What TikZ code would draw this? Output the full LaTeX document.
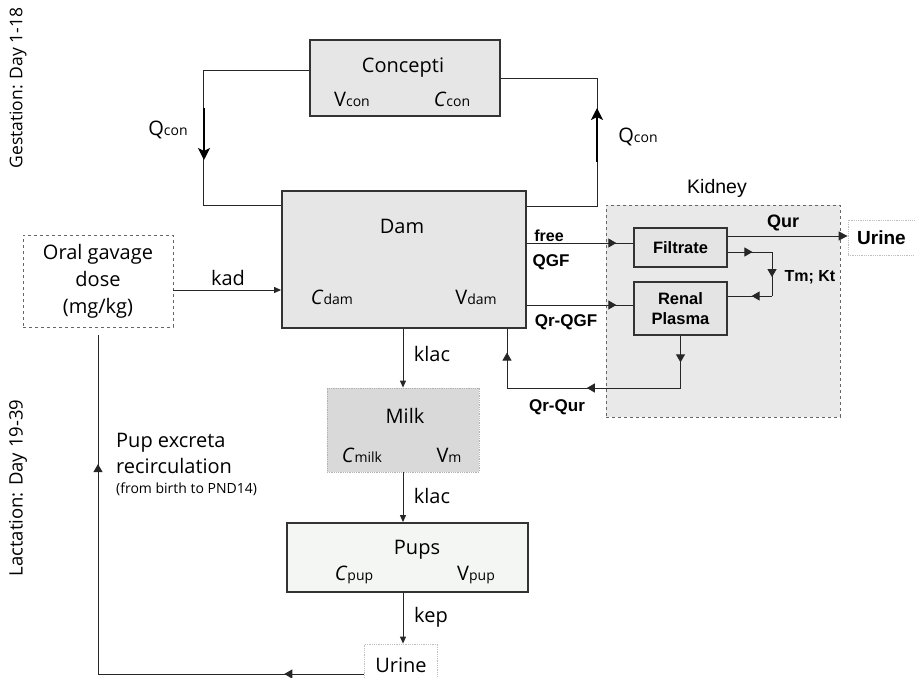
\documentclass[tikz,border=0pt]{standalone}
\usepackage{fontspec}
\setmainfont{Open Sans}
\newfontfamily\arialf{Liberation Sans}
\usetikzlibrary{arrows.meta,decorations.markings,calc}
\definecolor{boxgray}{HTML}{E6E6E6}
\definecolor{milkgray}{HTML}{D9D9D9}
\definecolor{kidgray}{HTML}{E9E9E9}
\definecolor{innergray}{HTML}{E4E4E4}
\definecolor{pupfill}{HTML}{F3F6F3}
\definecolor{edge}{HTML}{333333}
\newcommand\cfs{\fontsize{20}{23}\selectfont}
\newcommand\sbx[1]{{\fontsize{14}{16}\selectfont #1}}
\begin{document}
\begin{tikzpicture}[x=1pt,y=-1pt,
  bigbox/.style={draw=edge, line width=1.8pt, fill=#1, inner sep=0pt},
  inbox/.style={draw=edge, line width=1.3pt, fill=innergray, inner sep=0pt, align=center,
     font=\arialf\bfseries\fontsize{16.5}{20}\selectfont},
  dbox/.style={draw=black!60, dashed, line width=0.8pt, fill=white, inner sep=0pt, align=center},
  ubox/.style={draw=black!25, densely dotted, line width=0.8pt, fill=white, inner sep=0pt},
  kbox/.style={draw=black!60, dashed, line width=0.9pt, fill=kidgray, inner sep=0pt},
  lbl/.style={inner sep=0pt, font=\cfs},
  klbl/.style={inner sep=0pt, font=\arialf\bfseries\fontsize{17}{19}\selectfont},
  ln/.style={draw=black!85, line width=1pt},
  arr/.style={-{Triangle[length=7pt,width=6pt]}},
  thk/.style={draw=black, line width=2.4pt, -{Stealth[length=12pt,width=12pt,inset=3pt]}},
  midarr/.style={postaction={decorate,decoration={markings,
     mark=at position #1 with {\arrow{Triangle[length=8pt,width=9pt]}}}}}
]
\useasboundingbox (0,0) rectangle (915,677);

% side labels
\node[inner sep=0pt, font=\fontsize{17.5}{20}\selectfont, rotate=90] (gest) at (18,88) {Gestation: Day 1-18};
\node[inner sep=0pt, font=\fontsize{18.5}{20}\selectfont, rotate=90] (lact) at (18,488) {Lactation: Day 19-39};

% Concepti
\node[bigbox=boxgray, minimum width=190pt, minimum height=76pt] (concepti) at (405,78) {};
\node[lbl] (tconcepti) at (403,68) {Concepti};
\node[lbl] (tvcon) at (352,99) {V\sbx{con}};
\node[lbl] (tccon) at (452,99) {\textit{C}\sbx{con}};

% Dam
\node[bigbox=boxgray, minimum width=244pt, minimum height=137pt] (dam) at (404,259.5) {};
\node[lbl] (tdam) at (402,226) {Dam};
\node[lbl] (tcdam) at (332,297) {\textit{C}\sbx{dam}};
\node[lbl] (tvdam) at (476,297) {V\sbx{dam}};

% Oral gavage
\node[dbox, minimum width=150pt, minimum height=92pt, font=\fontsize{20}{27}\selectfont] (oral) at (98,281) {Oral gavage\\dose\\(mg/kg)};

% Kidney
\node[kbox, minimum width=234pt, minimum height=212pt] (kidney) at (723,311) {};
\node[inner sep=0pt, font=\arialf\fontsize{19.5}{21}\selectfont] (tkidney) at (717,188) {Kidney};
\node[inbox, minimum width=93pt, minimum height=39pt] (filtrate) at (680.5,247.5) {Filtrate};
\node[inbox, minimum width=93pt, minimum height=53pt] (renal) at (680.5,308.5) {Renal\\Plasma};
\node[ubox, minimum width=67pt, minimum height=35pt, font=\arialf\bfseries\fontsize{19}{21}\selectfont] (urineR) at (881.5,237.5) {Urine};

% Milk, Pups, Urine
\node[draw=black!30, densely dotted, line width=0.8pt, fill=milkgray, inner sep=0pt, minimum width=152pt, minimum height=84pt] (milk) at (403,430) {};
\node[lbl] (tmilk) at (405,416) {Milk};
\node[lbl] (tcmilk) at (362,455) {\textit{C}\sbx{milk}};
\node[lbl] (tvm) at (449,455) {V\sbx{m}};
\node[bigbox=pupfill, minimum width=241pt, minimum height=69pt] (pups) at (407.5,557.5) {};
\node[lbl] (tpups) at (417,550) {Pups};
\node[lbl] (tcpup) at (354,575) {\textit{C}\sbx{pup}};
\node[lbl] (tvpup) at (476,575) {V\sbx{pup}};
\node[ubox, minimum width=73pt, minimum height=46pt] (urineB) at (401,667) {};
\node[lbl] (turineB) at (401,665) {Urine};

% Concepti loops
\draw[ln] ([yshift=8pt]concepti.west) -- ++(-106,0) |- ([yshift=-15pt]dam.north west);
\draw[ln] (concepti.east) -- ++(97,0) |- ([yshift=-16pt]dam.north east);
\coordinate (qa1) at (204,108); \coordinate (qa2) at (204,160);
\coordinate (qb1) at (597,162); \coordinate (qb2) at (597,108);
\draw[thk] (qa1) -- (qa2);
\draw[thk] (qb1) -- (qb2);
\node[lbl] (lqcon1) at (168,130) {Q\sbx{con}};
\node[lbl] (lqcon2) at (638,137) {Q\sbx{con}};

% kad
\draw[ln, arr] ([yshift=-9pt]oral.east) -- ([yshift=-9pt]oral.east -| dam.west);
\node[lbl] (lkad) at (228,278) {kad};

% kidney connections
\coordinate (yfree) at (0,243);
\coordinate (yqr) at (0,305);
\coordinate (yqur) at (0,236);
\coordinate (yft) at (0,252);
\coordinate (yrp) at (0,296);
\coordinate (tmtop) at (772,252);
\coordinate (tmbot) at (772,296);
\coordinate (rpb) at (680.5,388);
\coordinate (rpl) at (507,388);
\draw[ln, midarr=0.84] (dam.east |- yfree) -- (filtrate.west |- yfree);
\draw[ln, midarr=0.84] (dam.east |- yqr) -- (renal.west |- yqr);
\draw[ln, -{Triangle[length=9pt,width=9pt]}] (filtrate.east |- yqur) -- (urineR.west |- yqur);
\draw[ln, midarr=0.56] (filtrate.east |- yft) -- (tmtop);
\draw[ln, midarr=0.57] (tmtop) -- (tmbot);
\draw[ln, midarr=0.46] (tmbot) -- (renal.east |- yrp);
\draw[ln, midarr=0.51] (renal.south) -- (rpb);
\draw[ln, midarr=0.54] (rpb) -- (rpl);
\draw[ln, midarr=0.6] (rpl) -- (dam.south -| rpl);
\node[inner sep=0pt, font=\arialf\bfseries\fontsize{16}{18}\selectfont] (lfree) at (549,236) {free};
\node[klbl] (lqgf) at (551,262) {QGF};
\node[klbl] (lqrqgf) at (566,322) {Qr-QGF};
\node[klbl, font=\arialf\bfseries\fontsize{18}{20}\selectfont] (lqur) at (783,223) {Qur};
\node[inner sep=0pt, font=\arialf\bfseries\fontsize{16}{18}\selectfont] (ltmkt) at (810,277) {Tm; Kt};
\node[klbl] (lqrqur) at (557,407) {Qr-Qur};

% milk / pups chain
\draw[ln, arr] (milk.north |- dam.south) -- (milk.north);
\node[lbl] (lklac1) at (432,354) {klac};
\draw[ln, arr] (milk.south) -- (milk.south |- pups.north);
\node[lbl] (lklac2) at (432,496) {klac};
\draw[ln, arr] (milk.south |- pups.south) -- (milk.south |- urineB.north);
\node[lbl] (lkep) at (431,617) {kep};

% recirculation
\coordinate (rcl) at (98,674);
\draw[ln, midarr=0.30] ([yshift=-7pt]urineB.west) -- (rcl);
\draw[ln, midarr=0.62] (rcl) -- ([yshift=-8pt]oral.south);
\node[lbl, anchor=west] (lpup1) at (116,443) {Pup excreta};
\node[lbl, anchor=west] (lpup2) at (116,466) {recirculation};
\node[inner sep=0pt, anchor=west, font=\fontsize{14}{16}\selectfont] (lpup3) at (116,489) {(from birth to PND14)};
\end{tikzpicture}
\end{document}
